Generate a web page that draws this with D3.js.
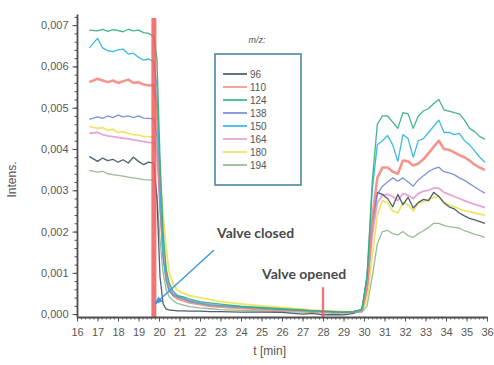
<!DOCTYPE html>
<html>
<head>
    <title>Valve test</title>
    <script src="https://cdnjs.cloudflare.com/ajax/libs/d3/7.8.5/d3.min.js"></script>
    <style>
        body { margin: 0; background: #fff; }
        .axis path, .axis line { stroke: #505050; }
        .axis text { font-family: "Liberation Sans", Arial, sans-serif; font-size: 11px; fill: #585858; }
        .label { font-family: "Liberation Sans", Arial, sans-serif; font-size: 12px; fill: #555; }
        .note { font-family: Lato, "Open Sans", sans-serif; font-size: 14px; font-weight: bold; fill: #4a4a4a; }
        .legend text { font-family: "Liberation Sans", Arial, sans-serif; font-size: 10px; fill: #555; }
    </style>
</head>
<body>
    <div id="chart"></div>
    <script>
        // time axis (min)
        const times = [16.6, 17, 17.25, 17.5, 17.75, 18, 18.25, 18.5, 18.75, 19, 19.25, 19.5, 19.75,
            19.9, 20.05, 20.2, 20.35, 20.5, 20.7, 20.9, 21.2, 21.5, 22, 22.5, 23, 24, 25, 26, 27, 27.5, 28, 28.5, 29, 29.5, 29.9,
            30.15, 30.4, 30.65, 30.9, 31.15, 31.4, 31.65, 31.9, 32.15, 32.4, 32.65, 32.9, 33.15, 33.4, 33.65, 33.9,
            34.15, 34.4, 34.65, 34.9, 35.15, 35.4, 35.65, 35.9];

        // intensities in units of 0.001
        const s96 = [3.82, 3.70, 3.78, 3.72, 3.75, 3.68, 3.74, 3.66, 3.80, 3.70, 3.62, 3.68, 3.65,
            2.8, 0.9, 0.25, 0.12, 0.1, 0.09, 0.08, 0.08, 0.07, 0.07, 0.06, 0.06, 0.05, 0.05, 0.04, 0.0, 0.02, -0.02, -0.01, -0.02, 0.02, 0.1,
            0.9, 2.3, 2.95, 2.9, 2.8, 2.6, 2.9, 2.65, 2.83, 2.57, 2.7, 2.78, 2.75, 2.95, 2.85, 2.7,
            2.6, 2.55, 2.45, 2.38, 2.32, 2.28, 2.24, 2.2];
        const s110 = [5.62, 5.70, 5.66, 5.62, 5.66, 5.60, 5.64, 5.68, 5.60, 5.62, 5.56, 5.54, 5.55,
            5.0, 3.0, 1.6, 0.95, 0.6, 0.45, 0.38, 0.33, 0.28, 0.24, 0.2, 0.18, 0.15, 0.12, 0.1, 0.08, 0.07, 0.06, 0.05, 0.04, 0.05, 0.08,
            0.7, 2.3, 3.3, 3.55, 3.55, 3.45, 3.4, 3.72, 3.7, 3.6, 3.65, 3.75, 3.9, 4.05, 4.2, 4.0,
            3.98, 3.92, 3.85, 3.8, 3.72, 3.62, 3.55, 3.49];
        const s124 = [6.88, 6.86, 6.90, 6.85, 6.89, 6.87, 6.84, 6.90, 6.86, 6.88, 6.82, 6.80, 6.72,
            6.2, 3.8, 2.0, 1.1, 0.75, 0.55, 0.45, 0.42, 0.36, 0.3, 0.27, 0.24, 0.19, 0.16, 0.13, 0.1, 0.08, 0.07, 0.06, 0.05, 0.06, 0.12,
            0.9, 3.2, 4.6, 4.8, 4.8, 4.65, 4.5, 4.88, 4.85, 4.5, 4.8, 4.92, 4.98, 5.1, 5.2, 4.95,
            4.92, 4.88, 4.85, 4.7, 4.5, 4.42, 4.3, 4.24];
        const s138 = [4.72, 4.78, 4.74, 4.80, 4.76, 4.82, 4.78, 4.80, 4.76, 4.80, 4.75, 4.74, 4.73,
            4.3, 2.6, 1.4, 0.85, 0.6, 0.48, 0.42, 0.36, 0.3, 0.26, 0.22, 0.19, 0.16, 0.13, 0.1, 0.08, 0.07, 0.06, 0.05, 0.04, 0.05, 0.08,
            0.6, 2.1, 2.9, 3.1, 3.2, 3.3, 3.22, 3.3, 3.2, 3.1, 3.25, 3.35, 3.45, 3.52, 3.56, 3.45,
            3.42, 3.38, 3.3, 3.24, 3.16, 3.08, 3.0, 2.93];
        const s150 = [6.45, 6.68, 6.45, 6.38, 6.36, 6.40, 6.42, 6.30, 6.32, 6.22, 6.15, 6.18, 6.10,
            5.5, 3.0, 1.4, 0.8, 0.55, 0.45, 0.42, 0.38, 0.3, 0.26, 0.22, 0.2, 0.17, 0.14, 0.11, 0.09, 0.08, 0.06, 0.05, 0.04, 0.05, 0.1,
            0.95, 3.0, 4.1, 4.2, 4.33, 4.1, 3.7, 4.35, 4.25, 3.8, 4.2, 4.25, 4.4, 4.55, 4.7, 4.4,
            4.4, 4.35, 4.38, 4.2, 4.1, 3.95, 3.8, 3.68];
        const s164 = [4.38, 4.40, 4.35, 4.32, 4.30, 4.28, 4.26, 4.25, 4.22, 4.20, 4.18, 4.16, 4.15,
            3.9, 2.6, 1.5, 0.95, 0.65, 0.5, 0.44, 0.4, 0.33, 0.28, 0.24, 0.21, 0.17, 0.14, 0.11, 0.09, 0.08, 0.06, 0.05, 0.05, 0.06, 0.09,
            0.55, 1.9, 2.7, 2.88, 2.9, 2.85, 2.75, 2.92, 2.88, 2.8, 2.92, 2.98, 3.0, 3.05, 3.05, 2.95,
            2.9, 2.85, 2.8, 2.75, 2.7, 2.66, 2.62, 2.58];
        const s180 = [4.55, 4.50, 4.52, 4.45, 4.48, 4.40, 4.42, 4.38, 4.35, 4.34, 4.30, 4.30, 4.28,
            4.1, 3.3, 2.4, 1.6, 1.0, 0.72, 0.58, 0.5, 0.45, 0.4, 0.35, 0.3, 0.25, 0.2, 0.16, 0.12, 0.1, 0.08, 0.07, 0.06, 0.06, 0.08,
            0.35, 1.4, 2.4, 2.75, 2.7, 2.5, 2.45, 2.7, 2.65, 2.5, 2.7, 2.72, 2.78, 2.82, 2.85, 2.7,
            2.65, 2.6, 2.55, 2.5, 2.48, 2.45, 2.42, 2.4];
        const s194 = [3.48, 3.44, 3.46, 3.40, 3.38, 3.36, 3.34, 3.32, 3.30, 3.28, 3.26, 3.25, 3.24,
            2.9, 1.8, 1.0, 0.6, 0.42, 0.32, 0.26, 0.22, 0.18, 0.15, 0.13, 0.11, 0.09, 0.08, 0.06, 0.05, 0.04, 0.03, 0.03, 0.03, 0.04, 0.05,
            0.2, 0.9, 1.7, 2.0, 2.03, 1.95, 1.92, 2.0, 1.9, 1.86, 1.95, 2.02, 2.1, 2.2, 2.2, 2.15,
            2.12, 2.1, 2.08, 2.02, 1.98, 1.93, 1.9, 1.86];

        const mz = ['96', '110', '124', '138', '150', '164', '180', '194'];
        const values = [s96, s110, s124, s138, s150, s164, s180, s194];
        const colors = ['#3b4f5e', '#f48a82', '#2fae78', '#6d86d8', '#2ab3df', '#e69ad4', '#ede25a', '#92b28c'];
        const widths = [1.3, 2.6, 1.3, 1.3, 1.3, 1.8, 1.8, 1.3];

        const xTicks = [16, 17, 18, 19, 20, 21, 22, 23, 24, 25, 26, 27, 28, 29, 30, 31, 32, 33, 34, 35, 36];
        const yTicks = [0, 1, 2, 3, 4, 5, 6, 7];
        const valveClosed = 19.75;
        const valveOpened = 28;

        const W = 494, H = 365;
        const margin = { top: 14, right: 7, bottom: 48, left: 77 };
        const width = W - margin.left - margin.right;
        const height = H - margin.top - margin.bottom;

        const svg = d3.select('#chart').append('svg')
            .attr('width', W).attr('height', H)
            .append('g')
            .attr('transform', `translate(${margin.left},${margin.top})`);

        const x = d3.scaleLinear().domain([16, 36]).range([0, width]);
        const y = d3.scaleLinear().domain([-0.07, 7.27]).range([height, 0]);

        // lines
        const line = d3.line()
            .x((d, i) => x(times[i]))
            .y(d => y(d))
            .curve(d3.curveLinear);

        const order = [7, 5, 6, 0, 3, 1, 4, 2];
        order.forEach(k => {
            svg.append('path')
                .datum(values[k])
                .attr('fill', 'none')
                .attr('stroke', colors[k])
                .attr('stroke-width', widths[k])
                .attr('stroke-linejoin', 'round')
                .attr('opacity', 0.9)
                .attr('d', line);
        });

        // valve markers
        svg.append('rect')
            .attr('x', x(valveClosed) - 2.5)
            .attr('y', 4)
            .attr('width', 5)
            .attr('height', height - 4)
            .attr('fill', '#f05c5c')
            .attr('opacity', 0.85);
        svg.append('rect')
            .attr('x', x(valveOpened) - 1.2)
            .attr('y', y(0.65))
            .attr('width', 2.4)
            .attr('height', height - y(0.65))
            .attr('fill', '#f05c5c')
            .attr('opacity', 0.85);

        // axes
        const fmt = v => d3.format('.3f')(v / 1000).replace('.', ',');
        svg.append('g').attr('class', 'axis')
            .attr('transform', `translate(0,${height})`)
            .call(d3.axisBottom(x).tickValues(d3.range(16, 36.01, 0.2)).tickSize(2.5).tickFormat(''))
            .call(g => g.select('.domain').remove());
        svg.append('g').attr('class', 'axis')
            .attr('transform', `translate(0,${height})`)
            .call(d3.axisBottom(x).tickValues(xTicks).tickSize(4.5).tickPadding(7).tickSizeOuter(0).tickFormat(d3.format('d')))
            .call(g => g.select('.domain').attr('stroke-width', 1.8));
        svg.append('g').attr('class', 'axis')
            .call(d3.axisLeft(y).tickValues(d3.range(0, 7.21, 0.2)).tickSize(2.5).tickFormat(''))
            .call(g => g.select('.domain').remove());
        svg.append('g').attr('class', 'axis')
            .call(d3.axisLeft(y).tickValues(yTicks).tickSize(4.5).tickPadding(4).tickSizeOuter(0).tickFormat(fmt))
            .call(g => g.select('.domain').attr('stroke-width', 1.8));

        // axis labels
        svg.append('text').attr('class', 'label')
            .attr('x', x(25.4)).attr('y', height + 38)
            .attr('text-anchor', 'middle')
            .text('t [min]');
        svg.append('text').attr('class', 'label')
            .attr('transform', 'rotate(-90)')
            .attr('x', -(height / 2 + 14)).attr('y', -61)
            .attr('text-anchor', 'middle')
            .text('Intens.');

        // legend
        const legend = svg.append('g').attr('class', 'legend')
            .attr('transform', `translate(${215 - margin.left},${54 - margin.top})`);
        legend.append('rect')
            .attr('width', 86).attr('height', 131)
            .attr('fill', '#fff')
            .attr('stroke', '#4b87a6').attr('stroke-width', 1.6);
        legend.append('text')
            .attr('x', 42).attr('y', -11)
            .attr('text-anchor', 'middle')
            .style('font-style', 'italic').style('font-size', '9px')
            .text('m/z:');
        mz.forEach((m, i) => {
            const row = legend.append('g').attr('transform', `translate(0,${20 + i * 13})`);
            row.append('line')
                .attr('x1', 8).attr('x2', 32)
                .attr('stroke', colors[i]).attr('stroke-width', 1.6);
            row.append('text').attr('x', 35).attr('y', 3.5).text(m);
        });

        // annotations
        svg.append('defs').append('marker')
            .attr('id', 'arrow').attr('viewBox', '0 0 10 10')
            .attr('refX', 9).attr('refY', 5)
            .attr('markerWidth', 6).attr('markerHeight', 6)
            .attr('orient', 'auto')
            .append('path').attr('d', 'M0,1 L10,5 L0,9 z').attr('fill', '#3a98de');
        svg.append('line')
            .attr('x1', 214 - margin.left).attr('y1', 250 - margin.top)
            .attr('x2', 155 - margin.left).attr('y2', 304 - margin.top)
            .attr('stroke', '#3a98de').attr('stroke-width', 1.4)
            .attr('marker-end', 'url(#arrow)');
        svg.append('text').attr('class', 'note')
            .attr('x', 217 - margin.left).attr('y', 238 - margin.top)
            .text('Valve closed');
        svg.append('text').attr('class', 'note')
            .attr('x', 262 - margin.left).attr('y', 279 - margin.top)
            .text('Valve opened');
    </script>
</body>
</html>
